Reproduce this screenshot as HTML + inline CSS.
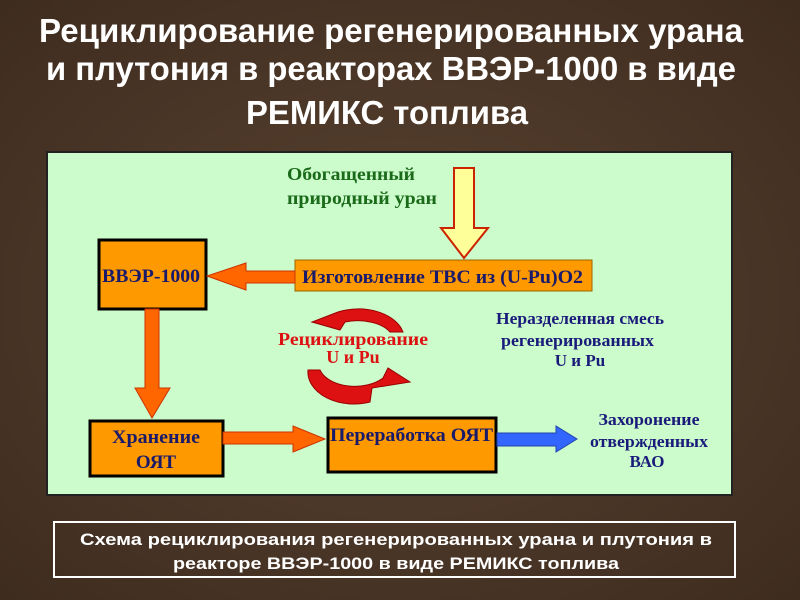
<!DOCTYPE html>
<html><head><meta charset="utf-8"><style>
html,body{margin:0;padding:0;width:800px;height:600px;overflow:hidden;background:#4a3526}
</style></head><body>
<svg width="800" height="600" xmlns="http://www.w3.org/2000/svg" font-family="Liberation Sans, sans-serif">
<defs>
<radialGradient id="bg" cx="50%" cy="50%" r="70%"><stop offset="0" stop-color="#5a4331"/><stop offset="1" stop-color="#3e2c1f"/></radialGradient>
</defs>
<rect width="800" height="600" fill="url(#bg)"/>
<g fill="#fff" font-weight="bold" font-size="33" text-anchor="middle">
<text x="391" y="42" textLength="704" lengthAdjust="spacingAndGlyphs">Рециклирование регенерированных урана</text>
<text x="391" y="80" textLength="690" lengthAdjust="spacingAndGlyphs">и плутония в реакторах ВВЭР-1000 в виде</text>
<text x="387" y="124" textLength="282" lengthAdjust="spacingAndGlyphs">РЕМИКС топлива</text>
</g>
<rect x="47" y="152" width="685" height="343" fill="#ccfccc" stroke="#222" stroke-width="2"/>
<g font-family="Liberation Serif, serif" font-weight="bold">
<text x="287" y="180" fill="#1a6a1a" font-size="18" textLength="128" lengthAdjust="spacingAndGlyphs">Обогащенный</text>
<text x="287" y="204" fill="#1a6a1a" font-size="18" textLength="150" lengthAdjust="spacingAndGlyphs">природный уран</text>
<polygon points="454,168 474,168 474,228 488,228 464,258 441,228 454,228" fill="#ffff99" stroke="#cc2200" stroke-width="2"/>
<rect x="99" y="240" width="107" height="69" fill="#ff9900" stroke="#000" stroke-width="3"/>
<text x="102" y="282" fill="#1a1a6a" font-size="19" textLength="98" lengthAdjust="spacingAndGlyphs">ВВЭР-1000</text>
<rect x="295" y="260" width="297" height="31" fill="#ff9900" stroke="#996600" stroke-width="1"/>
<text x="302" y="283" fill="#1a1a6a" font-size="19" textLength="281" lengthAdjust="spacingAndGlyphs">Изготовление ТВС из (U-Pu)O2</text>
<polygon points="295,271 246,271 246,263 207,276 246,290 246,283 295,283" fill="#ff6600" stroke="#cc3300" stroke-width="1"/>
<polygon points="145,309 159,309 159,388 170,388 152,418 135,388 145,388" fill="#ff6600" stroke="#cc3300" stroke-width="1"/>
<rect x="90" y="421" width="133" height="55" fill="#ff9900" stroke="#000" stroke-width="3"/>
<text x="156" y="443" text-anchor="middle" fill="#1a1a6a" font-size="19" textLength="88" lengthAdjust="spacingAndGlyphs">Хранение</text>
<text x="156" y="468" text-anchor="middle" fill="#1a1a6a" font-size="19">ОЯТ</text>
<polygon points="223,432 293,432 293,426 325,439 293,452 293,444 223,444" fill="#ff6600" stroke="#cc3300" stroke-width="1"/>
<rect x="328" y="418" width="168" height="54" fill="#ff9900" stroke="#000" stroke-width="3"/>
<text x="330" y="441" fill="#1a1a6a" font-size="19" textLength="163" lengthAdjust="spacingAndGlyphs">Переработка ОЯТ</text>
<polygon points="497,433 556,433 556,426 577,439 556,452 556,446 497,446" fill="#3366ff" stroke="#2244aa" stroke-width="1"/>
<path d="M403,332 A46 30 0 0 0 338,312 L312,322 L340,330 L345,322 A36 20 0 0 1 390,332 Z" fill="#dd1111" stroke="#990000" stroke-width="1"/>
<path d="M308,370 A46 32 0 0 0 370,402 L372,388 L410,382 L388,368 L383,378 A36 22 0 0 1 320,370 Z" fill="#dd1111" stroke="#990000" stroke-width="1"/>
<text x="278" y="345" fill="#dd1111" font-size="18" textLength="150" lengthAdjust="spacingAndGlyphs">Рециклирование</text>
<text x="353" y="363" text-anchor="middle" fill="#dd1111" font-size="18">U и Pu</text>
<text x="496" y="324" fill="#1a1a7a" font-size="17" textLength="168" lengthAdjust="spacingAndGlyphs">Неразделенная смесь</text>
<text x="501" y="346" fill="#1a1a7a" font-size="17" textLength="153" lengthAdjust="spacingAndGlyphs">регенерированных</text>
<text x="580" y="366" text-anchor="middle" fill="#1a1a7a" font-size="17">U и Pu</text>
<text x="649" y="425" text-anchor="middle" fill="#1a1a7a" font-size="17" textLength="101" lengthAdjust="spacingAndGlyphs">Захоронение</text>
<text x="649" y="447" text-anchor="middle" fill="#1a1a7a" font-size="17" textLength="118" lengthAdjust="spacingAndGlyphs">отвержденных</text>
<text x="647" y="467" text-anchor="middle" fill="#1a1a7a" font-size="17">ВАО</text>
</g>
<rect x="54" y="522" width="681" height="55" fill="none" stroke="#fff" stroke-width="2"/>
<g fill="#fff" font-weight="bold" font-size="17" text-anchor="middle">
<text x="396" y="545" textLength="632" lengthAdjust="spacingAndGlyphs">Схема  рециклирования регенерированных урана и плутония в</text>
<text x="396" y="569" textLength="446" lengthAdjust="spacingAndGlyphs">реакторе ВВЭР-1000 в виде РЕМИКС топлива</text>
</g>
</svg>
</body></html>
